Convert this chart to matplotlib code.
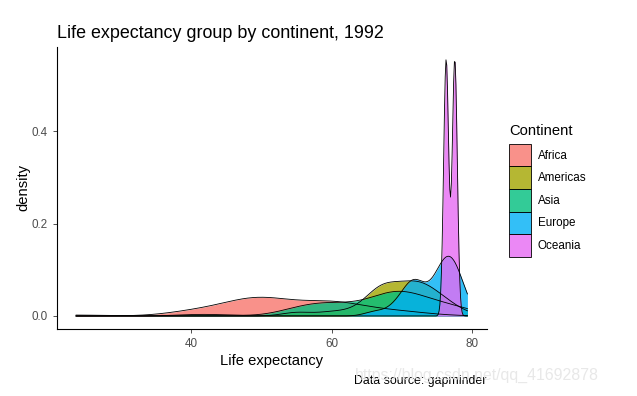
import numpy as np
import matplotlib
matplotlib.use("Agg")
import matplotlib.pyplot as plt
import seaborn as sns
from matplotlib.patches import Patch

plt.rcParams['font.family'] = ['Liberation Sans', 'DejaVu Sans']

# gapminder, year 1992, life expectancy per country
africa = [67.744, 40.647, 53.919, 62.745, 50.26, 44.736, 54.314, 49.396, 51.724,
          57.939, 45.548, 56.433, 52.044, 51.604, 63.674, 47.545, 49.991, 48.091,
          61.366, 52.644, 57.501, 48.576, 43.266, 59.285, 59.685, 40.802, 68.755,
          52.214, 49.42, 48.388, 61.366, 69.745, 65.393, 44.284, 61.999, 47.391,
          47.472, 73.615, 23.599, 62.742, 58.196, 38.333, 39.658, 61.888, 53.556,
          58.474, 50.44, 58.061, 70.001, 48.825, 46.1, 60.377]
americas = [71.868, 59.957, 67.057, 77.95, 74.126, 68.421, 75.713, 74.414, 68.457,
            69.613, 66.798, 63.373, 55.089, 66.399, 71.766, 71.455, 65.843, 72.462,
            68.225, 66.458, 73.911, 69.862, 76.09, 72.752, 71.15]
asia = [41.674, 72.601, 56.018, 55.803, 68.69, 77.601, 60.223, 62.681, 65.742,
        59.461, 76.93, 79.36, 68.015, 69.978, 72.244, 75.19, 69.292, 70.693,
        61.271, 59.32, 55.727, 71.197, 60.838, 66.458, 68.768, 75.788, 70.379,
        69.249, 74.26, 67.298, 67.662, 69.718, 55.599]
europe = [71.581, 76.04, 76.46, 72.178, 71.19, 72.527, 72.4, 75.33, 75.7, 77.46,
          76.07, 77.03, 69.17, 78.77, 75.467, 77.44, 75.435, 77.42, 77.32, 70.99,
          74.86, 69.36, 71.659, 71.38, 73.64, 77.57, 78.16, 78.03, 66.146, 76.42]
oceania = [77.56, 76.33]

continents = ['Africa', 'Americas', 'Asia', 'Europe', 'Oceania']
values = [africa, americas, asia, europe, oceania]
colors = ['#F8766D', '#A3A500', '#00BF7D', '#00B0F6', '#E76BF3']


def nrd0_factor(x):
    # R's default bandwidth, expressed as a factor of the sample sd
    x = np.asarray(x)
    sd = x.std(ddof=1)
    q1, q3 = np.percentile(x, [25, 75])
    lo = min(sd, (q3 - q1) / 1.34)
    return 0.9 * lo * len(x) ** -0.2 / sd


allv = np.concatenate([np.asarray(v) for v in values])
lo_x, hi_x = allv.min(), allv.max()

fig = plt.figure(figsize=(6.37, 3.96), dpi=100)
ax = fig.add_axes([0.0887, 0.1697, 0.6758, 0.7116])

for name, v, c in zip(continents, values, colors):
    bw = nrd0_factor(v)
    sns.kdeplot(x=v, ax=ax, bw_method=bw, cut=1000, clip=(lo_x, hi_x),
                gridsize=512, fill=True, color=c, alpha=0.8, linewidth=0)
    sns.kdeplot(x=v, ax=ax, bw_method=bw, cut=1000, clip=(lo_x, hi_x),
                gridsize=512, color='black', linewidth=0.6)

ax.use_sticky_edges = False
ax.margins(x=0.05, y=0.05)

ax.set_xticks([40, 60, 80])
ax.set_yticks([0.0, 0.2, 0.4])
ax.set_yticklabels(['0.0', '0.2', '0.4'])
ax.tick_params(labelsize=8.4, colors='#333333', length=3, width=0.6)
for lab in ax.get_xticklabels() + ax.get_yticklabels():
    lab.set_color('#4D4D4D')
for s in ['top', 'right']:
    ax.spines[s].set_visible(False)
for s in ['left', 'bottom']:
    ax.spines[s].set_linewidth(0.8)
ax.set_xlabel('Life expectancy', fontsize=10.6, labelpad=3)
ax.set_ylabel('density', fontsize=10.6, labelpad=1)

fig.text(57 / 637, 1 - 33 / 396, 'Life expectancy group by continent, 1992',
         fontsize=12.85, ha='left', va='center')
fig.text(487 / 637, 1 - 381 / 396, 'Data source: gapminder',
         fontsize=8.9, ha='right', va='center')
fig.text(355 / 637, 1 - 375 / 396, 'https://blog.csdn.net/qq_41692878',
         fontsize=11.4, ha='left', va='center', color='#e8e8e8')

handles = [Patch(facecolor=matplotlib.colors.to_rgba(c, 0.8),
                 edgecolor='black', linewidth=0.6) for c in colors]
leg = fig.legend(handles, continents, loc='upper left',
                 bbox_to_anchor=(500 / 637, 1 - 115 / 396),
                 frameon=False, fontsize=8.4, title='Continent',
                 title_fontsize=10.6, handlelength=1.85, handleheight=2.6,
                 labelspacing=0.0, handletextpad=0.6, borderpad=0.3)
leg._legend_box.align = 'left'
leg._legend_box.sep = 4

fig.savefig('out.png', dpi=100)
